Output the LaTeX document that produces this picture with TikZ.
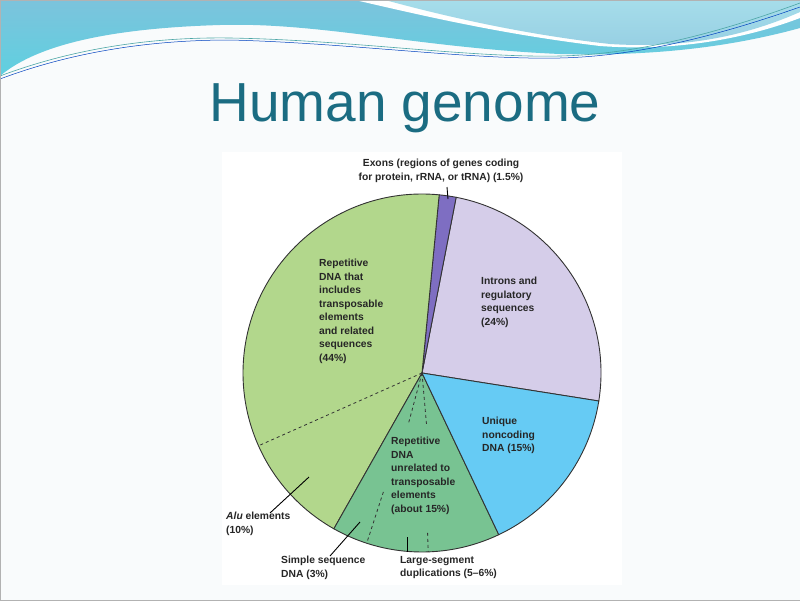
\documentclass[tikz,border=0pt]{standalone}
\usepackage{fontspec}
\setmainfont{Liberation Sans}
\begin{document}
\begin{tikzpicture}[x=1pt,y=-1pt,
  lbl/.style={font=\fontsize{10.3}{13.5}\selectfont\bfseries, align=left, inner sep=0pt, anchor=north west, text=black!85},
  slice/.style={draw=black!80, line width=0.9pt},
  lead/.style={draw=black, line width=0.9pt},
  dsh/.style={draw=black!80, dashed, line width=0.8pt}]
\definecolor{bgc}{HTML}{F9FBFC}
\definecolor{wave1}{HTML}{7CC3DC}
\definecolor{wave2}{HTML}{5FD0E0}
\definecolor{wave3}{HTML}{A6DDEA}
\definecolor{titc}{HTML}{1B6C82}
\definecolor{cexon}{HTML}{7E6EC2}
\definecolor{cintron}{HTML}{D5CDE9}
\definecolor{cuniq}{HTML}{66CBF4}
\definecolor{crep}{HTML}{B2D78C}
\definecolor{crep2}{HTML}{78C392}
\useasboundingbox (0,0) rectangle (800,600);
\fill[bgc] (0,0) rectangle (800,600);
% top waves
\shade[top color=wave1, bottom color=wave2]
  (0,0) -- (800,0) -- (800,28) .. controls (720,50) and (640,56) .. (560,54)
  .. controls (420,48) and (320,22) .. (220,25) .. controls (120,28) and (40,42) .. (0,76) -- cycle;
\fill[white] (355,0) .. controls (420,15) and (500,34) .. (600,46) .. controls (680,52) and (750,37) .. (800,18) -- (800,0) -- cycle;
\shade[top color=wave3, bottom color=wave1!80] (385,0) .. controls (440,15) and (520,34) .. (610,44) .. controls (690,49) and (750,34) .. (800,12) -- (800,0) -- cycle;
\draw[teal!70, line width=0.6pt] (0,76) .. controls (80,46) and (160,37) .. (230,38) .. controls (350,40) and (470,58) .. (560,56) .. controls (650,54) and (740,25) .. (800,3);
\draw[blue!50!teal, line width=0.5pt] (0,79) .. controls (80,49) and (160,40) .. (230,40) .. controls (350,43) and (470,60) .. (560,58) .. controls (650,56) and (740,28) .. (800,7);
\draw[gray!60, line width=0.4pt] (0,0) rectangle (800,600);
% title
\node[font=\fontsize{55}{60}\selectfont, text=titc] (title) at (405,108) {Human genome};
% chart panel
\fill[white] (222,152) rectangle (622,585);
\begin{scope}[shift={(422,373)}, yscale=-1]
  \def\R{179}
  \filldraw[slice, fill=cintron] (0,0) -- (-9:\R) arc[start angle=-9, end angle=79, radius=\R] -- cycle;
  \filldraw[slice, fill=cexon] (0,0) -- (79:\R) arc[start angle=79, end angle=84.5, radius=\R] -- cycle;
  \filldraw[slice, fill=crep] (0,0) -- (84.5:\R) arc[start angle=84.5, end angle=240.5, radius=\R] -- cycle;
  \filldraw[slice, fill=crep2] (0,0) -- (240.5:\R) arc[start angle=240.5, end angle=295.4, radius=\R] -- cycle;
  \filldraw[slice, fill=cuniq] (0,0) -- (295.4:\R) arc[start angle=295.4, end angle=351, radius=\R] -- cycle;
  \draw[dsh] (0,0) -- (204:\R);
  \draw[dsh] (0,0) -- (255:52);
  \draw[dsh] (0,0) -- (275:52);
  \draw[dsh] (252:125) -- (252:\R);
  \draw[dsh] (272:160) -- (272:\R);
  \coordinate (c) at (0,0);
\end{scope}
% leaders
\coordinate (e1) at (447,187); \coordinate (e2) at (448,199);
\coordinate (a1) at (309,477); \coordinate (a2) at (270,513);
\coordinate (s1) at (360,522); \coordinate (s2) at (330,556);
\coordinate (l1) at (407,537); \coordinate (l2) at (407,552);
\draw[lead] (e1) -- (e2);
\draw[lead] (a1) -- (a2);
\draw[lead] (s1) -- (s2);
\draw[lead] (l1) -- (l2);
% labels
\node[lbl, align=center, anchor=north] (lexon) at (441,159) {Exons (regions of genes coding\\for protein, rRNA, or tRNA) (1.5\%)};
\node[lbl] (lrep) at (319,259) {Repetitive\\DNA that\\includes\\transposable\\elements\\and related\\sequences\\(44\%)};
\node[lbl] (lintron) at (481,277) {Introns and\\regulatory\\sequences\\(24\%)};
\node[lbl] (luniq) at (482,417) {Unique\\noncoding\\DNA (15\%)};
\node[lbl] (lrep2) at (391,437) {Repetitive\\DNA\\unrelated to\\transposable\\elements\\(about 15\%)};
\node[lbl] (lalu) at (226,512) {\textit{Alu} elements\\(10\%)};
\node[lbl] (lsimple) at (281,556) {Simple sequence\\DNA (3\%)};
\node[lbl] (llarge) at (400,556) {Large-segment\\duplications (5--6\%)};
\end{tikzpicture}
\end{document}
